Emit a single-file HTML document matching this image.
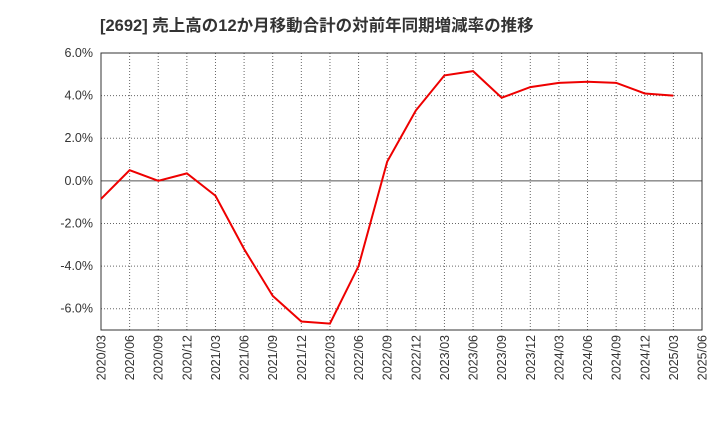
<!DOCTYPE html>
<html><head><meta charset="utf-8">
<style>
body{margin:0;background:#fff;font-family:"Liberation Sans","Noto Sans CJK JP",sans-serif;}
svg text{font-family:"Liberation Sans","Noto Sans CJK JP",sans-serif;}
</style></head>
<body>
<svg id="chart" width="720" height="440">
<text x="100" y="31" font-size="16.5" font-weight="bold" fill="#333">[2692] 売上高の12か月移動合計の対前年同期増減率の推移</text>
<g id="grid"></g>
<g id="yaxis"></g>
<g id="xaxis"></g>
<rect x="101" y="53" width="601" height="277" fill="none" stroke="#333" stroke-width="1"/>
<path id="line" fill="none" stroke="#e00" stroke-width="2"/>
</svg>
<script>
const xLabels=["2020/03","2020/06","2020/09","2020/12","2021/03","2021/06","2021/09","2021/12","2022/03","2022/06","2022/09","2022/12","2023/03","2023/06","2023/09","2023/12","2024/03","2024/06","2024/09","2024/12","2025/03","2025/06"];
const values=[-0.85,0.5,0.0,0.35,-0.7,-3.2,-5.4,-6.6,-6.7,-4.0,0.9,3.3,4.95,5.15,3.9,4.4,4.6,4.65,4.6,4.1,4.0];
const yTicks=[6,4,2,0,-2,-4,-6];
const X0=101,X1=702,Y0=53,Y1=330,YMAX=6,YMIN=-7;
const xs=i=>X0+(X1-X0)*i/(xLabels.length-1);
const ys=v=>Y0+(YMAX-v)/(YMAX-YMIN)*(Y1-Y0);
const NS="http://www.w3.org/2000/svg";
const grid=document.getElementById('grid'),ya=document.getElementById('yaxis'),xa=document.getElementById('xaxis');
xLabels.forEach((l,i)=>{
  const x=xs(i);
  const g=document.createElementNS(NS,'line');
  g.setAttribute('x1',x);g.setAttribute('x2',x);g.setAttribute('y1',Y0);g.setAttribute('y2',Y1);
  g.setAttribute('stroke','#666');g.setAttribute('stroke-dasharray','1,2');g.setAttribute('stroke-width','1');
  
  
  grid.appendChild(g);
  const t=document.createElementNS(NS,'text');
  t.setAttribute('transform',`translate(${x+4.5},${Y1+5}) rotate(-90)`);
  t.setAttribute('text-anchor','end');t.setAttribute('font-size','12.5');t.setAttribute('fill','#333');
  t.textContent=l;
  
  
  xa.appendChild(t);
});
yTicks.forEach(v=>{
  const y=ys(v);
  const g=document.createElementNS(NS,'line');
  g.setAttribute('x1',X0);g.setAttribute('x2',X1);g.setAttribute('y1',y);g.setAttribute('y2',y);
  g.setAttribute('stroke',v===0?'#555':'#666');g.setAttribute('stroke-dasharray',v===0?'none':'1,2');
  
  
  grid.appendChild(g);
  const t=document.createElementNS(NS,'text');
  t.setAttribute('x',X0-8);t.setAttribute('y',y+4);t.setAttribute('text-anchor','end');
  t.setAttribute('font-size','12.5');t.setAttribute('fill','#333');
  t.textContent=v.toFixed(1)+'%';
  
  
  ya.appendChild(t);
});
document.getElementById('line').setAttribute('d',values.map((v,i)=>(i?'L':'M')+xs(i)+','+ys(v)).join(' '));
</script>
</body></html>
